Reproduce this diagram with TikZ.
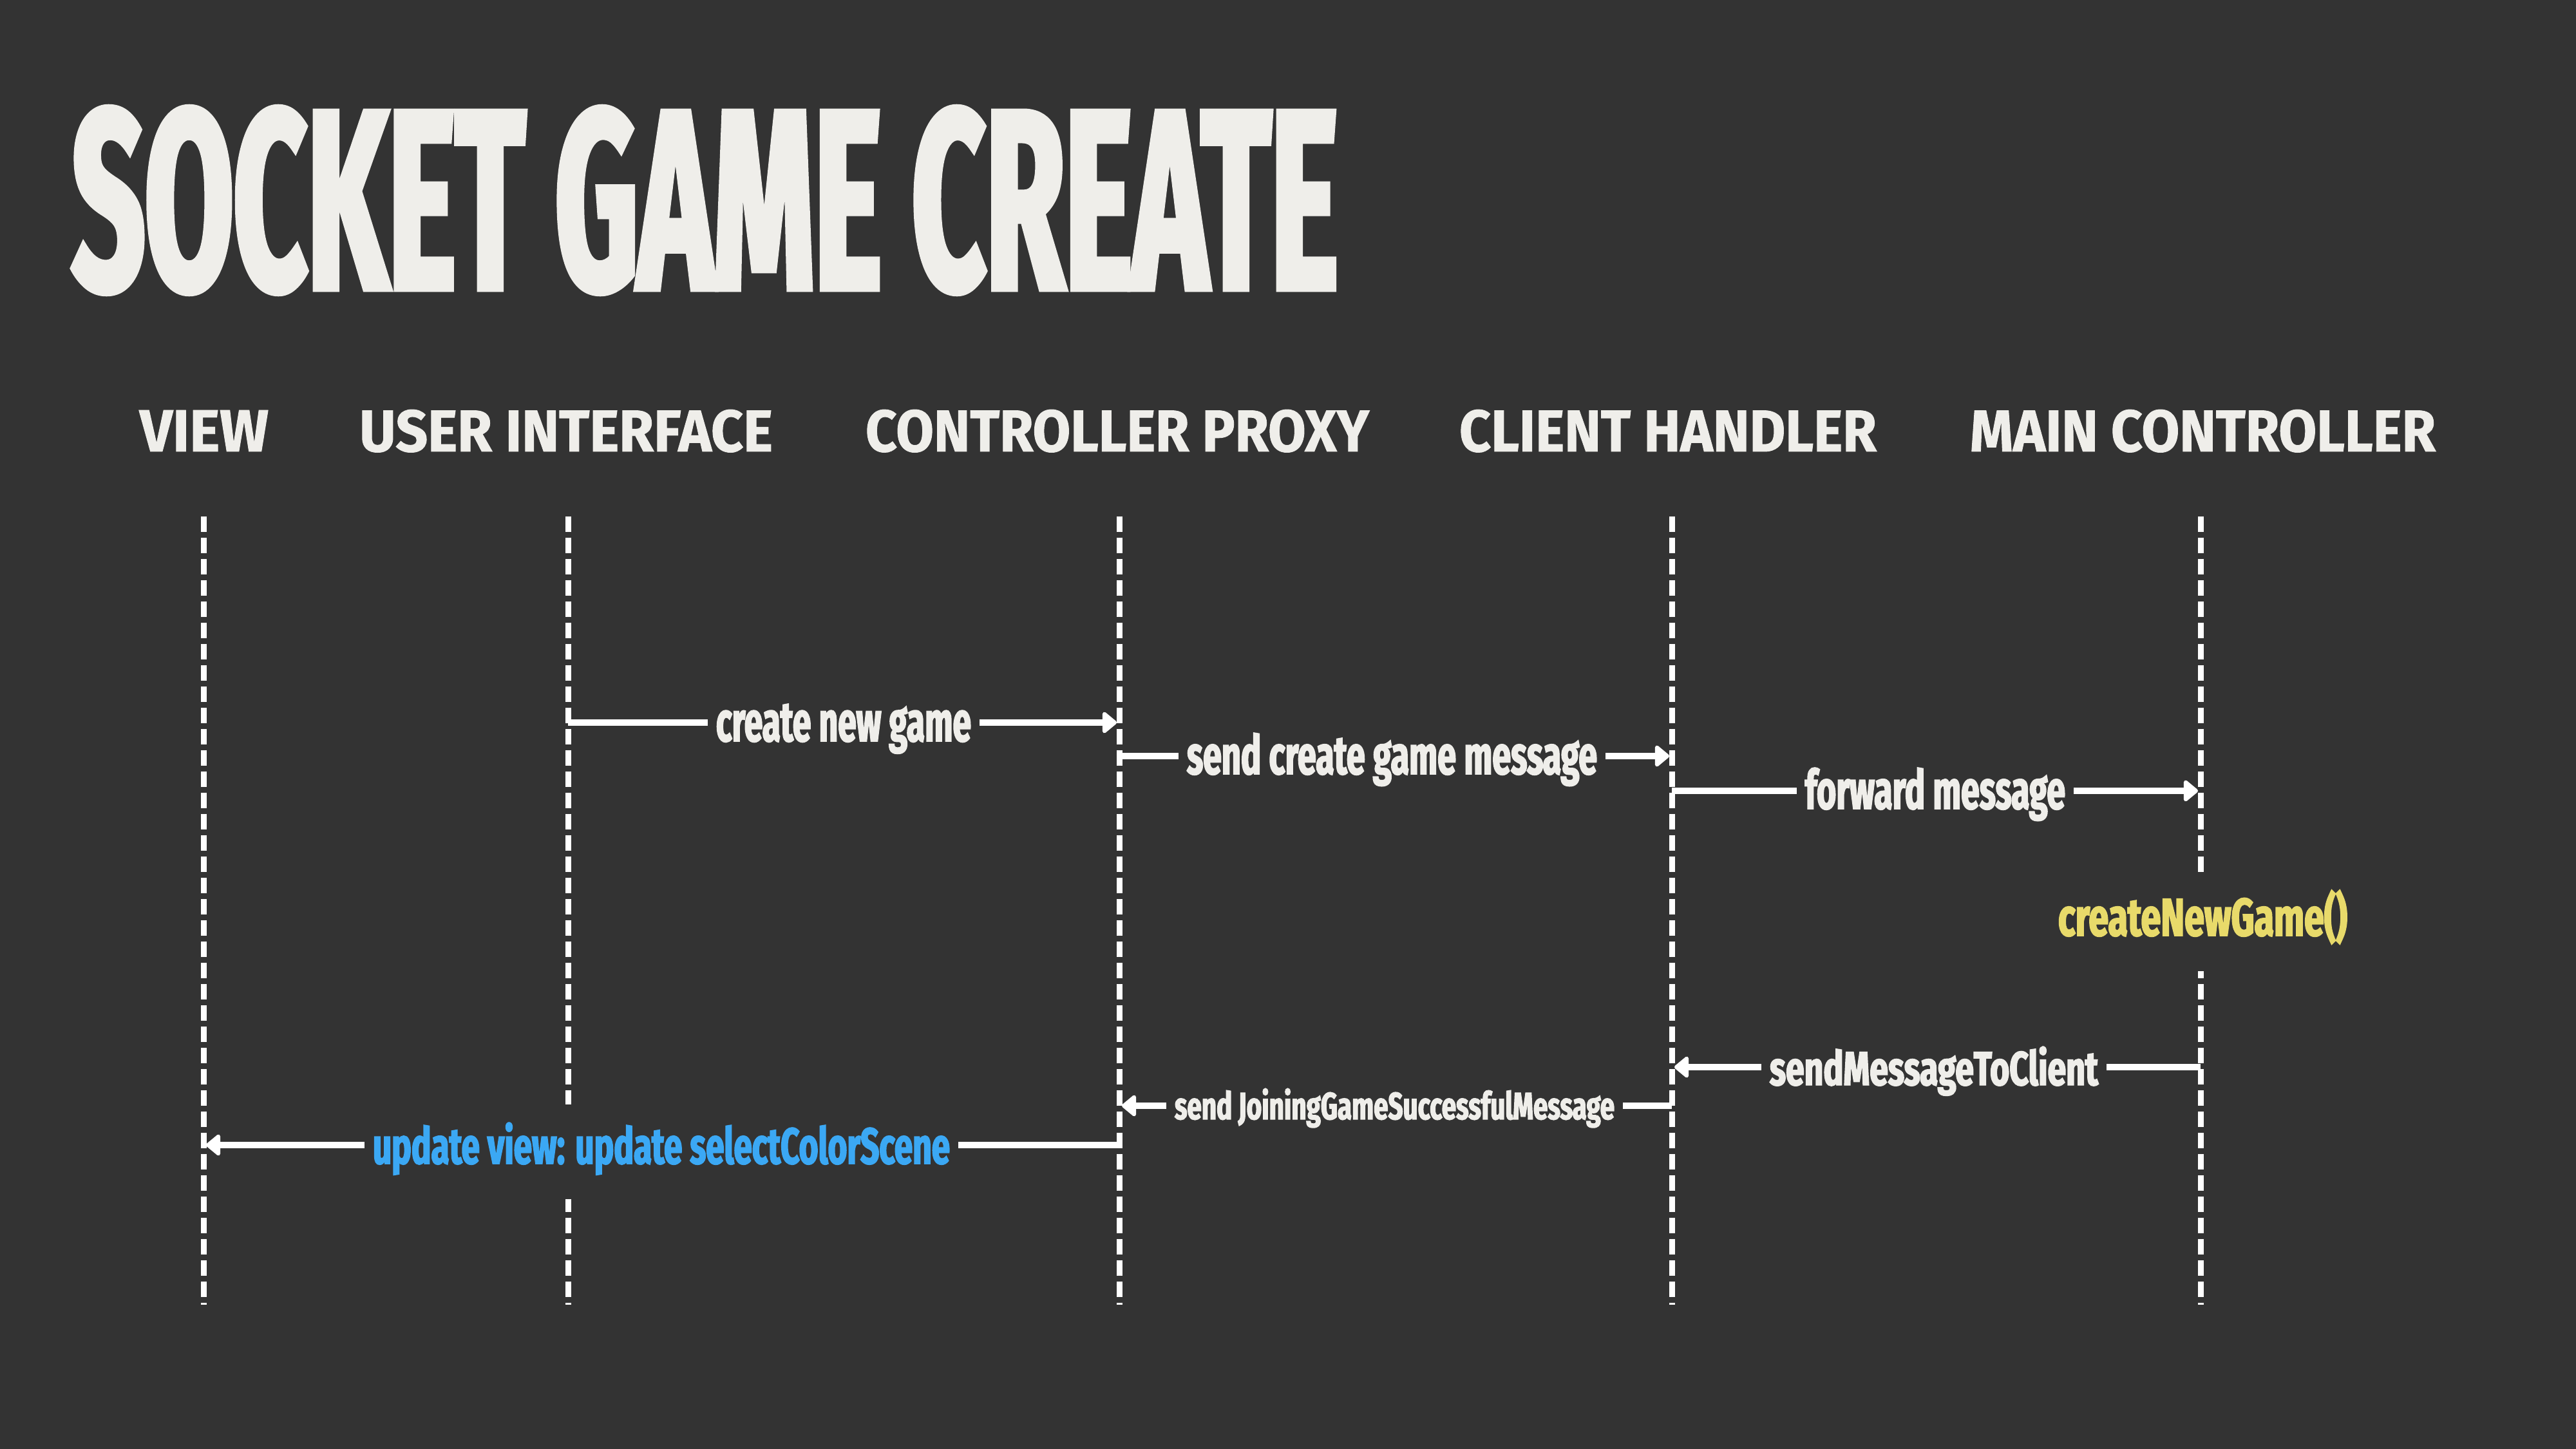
\documentclass[tikz,border=0pt]{standalone}
\usepackage{fontspec}
\usepackage{graphicx}
\usetikzlibrary{arrows.meta}
\newfontfamily\titlefont{Fira Sans}[FakeStretch=0.45,FakeBold=2]
\newfontfamily\headfont{Fira Sans}[FakeStretch=0.9,FakeBold=1]
\newfontfamily\lblfont{Fira Sans}[FakeStretch=0.55,FakeBold=2]
\definecolor{bg}{HTML}{333333}
\definecolor{txt}{HTML}{EFEEEA}
\definecolor{yel}{HTML}{E8DA6A}
\definecolor{blu}{HTML}{3BA8F4}
\newcommand{\fitto}[3]{\resizebox{#1}{#2}{#3}}
\begin{document}
\begin{tikzpicture}[
  life/.style={draw=white, line width=0.09cm, dash pattern=on 0.24cm off 0.09cm},
  msg/.style={draw=white, line width=0.1cm, -{Triangle[length=0.24cm,width=0.38cm,round]}, shorten >=0.04cm},
  head/.style={anchor=base, inner sep=0, text=txt, font=\headfont\bfseries},
  lbl/.style={anchor=base, fill=bg, inner xsep=0.13cm, inner ysep=0, text height=0.92cm, text depth=0.55cm, text=txt, font=\lblfont\bfseries},
  ttl/.style={anchor=base, inner sep=0, text=txt, font=\titlefont\bfseries}
]
\fill[bg] (0,0) rectangle (40,-22.5);
\useasboundingbox (0,0) rectangle (40,-22.5);

% title
\node[ttl] (title) at (10.945,-4.495) {\fitto{19.65cm}{2.835cm}{SOCKET GAME CREATE}};

% headers
\node[head] (h-view) at (3.17,-7.01) {\fitto{2.00cm}{0.64cm}{VIEW}};
\node[head] (h-ui) at (8.79,-7.01) {\fitto{6.42cm}{0.65cm}{USER INTERFACE}};
\node[head] (h-cp) at (17.35,-7.01) {\fitto{7.82cm}{0.65cm}{CONTROLLER PROXY}};
\node[head] (h-ch) at (25.90,-7.01) {\fitto{6.48cm}{0.65cm}{CLIENT HANDLER}};
\node[head] (h-mc) at (34.205,-7.01) {\fitto{7.23cm}{0.65cm}{MAIN CONTROLLER}};

% lifelines
\foreach \n/\x in {view/3.16, ui/8.82, cp/17.38, ch/25.96, mc/34.17} {
  \coordinate (\n-top) at (\x,-8.02);
  \coordinate (\n-bot) at (\x,-20.26);
  \draw[life] (\n-top) -- (\n-bot);
}

% message end points
\coordinate (ui-m1) at (8.82,-11.22);
\coordinate (cp-m1) at (17.38,-11.22);
\coordinate (cp-m2) at (17.38,-11.74);
\coordinate (ch-m2) at (25.96,-11.74);
\coordinate (ch-m3) at (25.96,-12.28);
\coordinate (mc-m3) at (34.17,-12.28);
\coordinate (mc-m5) at (34.17,-16.57);
\coordinate (ch-m5) at (25.96,-16.57);
\coordinate (ch-m6) at (25.96,-17.17);
\coordinate (cp-m6) at (17.38,-17.17);
\coordinate (cp-m7) at (17.38,-17.78);
\coordinate (view-m7) at (3.16,-17.78);

% messages
\draw[msg] (ui-m1) -- (cp-m1);
\draw[msg] (cp-m2) -- (ch-m2);
\draw[msg] (ch-m3) -- (mc-m3);
\draw[msg] (mc-m5) -- (ch-m5);
\draw[msg] (ch-m6) -- (cp-m6);
\draw[msg] (cp-m7) -- (view-m7);

% labels
\node[lbl] (l1) at (13.10,-11.51) {\fitto{3.96cm}{0.58cm}{create new game}};
\node[lbl] (l2) at (21.615,-12.02) {\fitto{6.37cm}{0.64cm}{send create game message}};
\node[lbl] (l3) at (30.05,-12.56) {\fitto{4.04cm}{0.64cm}{forward message}};
\node[lbl, text=yel] (l4) at (34.205,-14.53) {\fitto{4.49cm}{0.71cm}{createNewGame()}};
\node[lbl] (l5) at (30.03,-16.85) {\fitto{5.10cm}{0.60cm}{sendMessageToClient}};
\node[lbl] (l6) at (21.655,-17.38) {\fitto{6.83cm}{0.48cm}{send JoiningGameSuccessfulMessage}};
\node[lbl, text=blu] (l7) at (10.27,-18.07) {\fitto{8.96cm}{0.64cm}{update view: update selectColorScene}};
\end{tikzpicture}
\end{document}
